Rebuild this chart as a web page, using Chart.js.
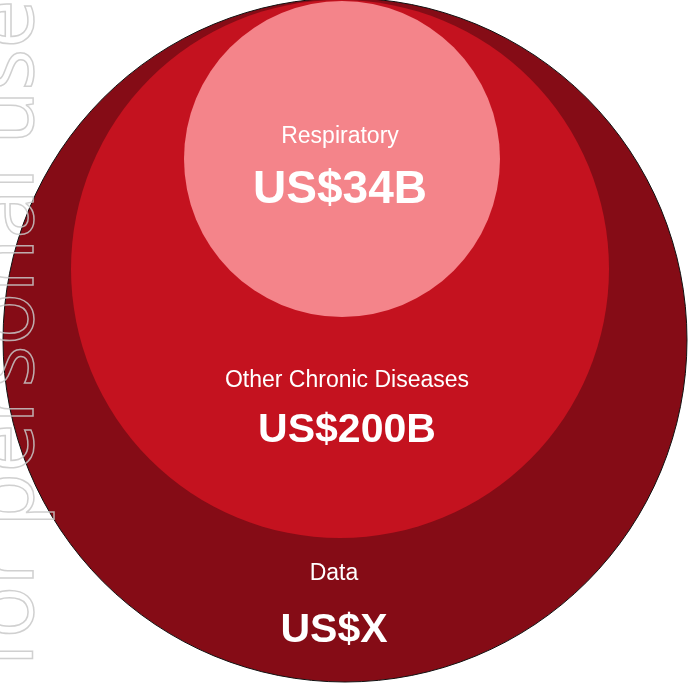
<!DOCTYPE html>
<html lang="en">
<head>
    <meta charset="UTF-8">
    <title>Nested spend circles</title>
    <style>
        * {
    box-sizing: border-box;
    margin: 0;
    padding: 0;
}

body {
    background-color: #ffffff;
    font-family: "Liberation Sans", Arial, sans-serif;
}

#circleChart {
    display: block;
}
    </style>
</head>
<body>
    <canvas id="circleChart" width="697" height="684"></canvas>

    <script src="https://cdn.jsdelivr.net/npm/chart.js"></script>
    <script>
        // Data (outer to inner)
        const categories = ['Data', 'Other Chronic Diseases', 'Respiratory'];
        const valueLabels = ['US$X', 'US$200B', 'US$34B'];
        const circleX = [345, 340, 342];
        const circleY = [340, 269, 159];
        const circleR = [342, 269, 158];
        const circleColors = ['#850c16', '#c4121f', '#f4848a'];

        // text placement relative to each circle centre (name baseline, value baseline)
        const nameOffsetY = [240, 118, -16];
        const valueOffsetY = [302, 173, 44];
        const textShiftX = [-11, 7, -2];
        const valueFontSize = [41, 41, 46];

        const labelPlugin = {
            id: 'circleLabels',
            afterDatasetsDraw(chart) {
                const ctx = chart.ctx;
                const xs = chart.scales.x;
                const ys = chart.scales.y;
                ctx.save();
                ctx.fillStyle = '#ffffff';
                ctx.textAlign = 'center';
                ctx.textBaseline = 'alphabetic';
                categories.forEach((name, i) => {
                    const px = xs.getPixelForValue(circleX[i] + textShiftX[i]);
                    ctx.font = '23px "Liberation Sans", Arial, sans-serif';
                    ctx.fillText(name, px, ys.getPixelForValue(circleY[i] + nameOffsetY[i]));
                    ctx.font = 'bold ' + valueFontSize[i] + 'px "Liberation Sans", Arial, sans-serif';
                    ctx.fillText(valueLabels[i], px, ys.getPixelForValue(circleY[i] + valueOffsetY[i]));
                });
                ctx.restore();
            },
            afterDraw(chart) {
                // faint outlined watermark down the left edge
                const ctx = chart.ctx;
                ctx.save();
                ctx.translate(33, 668);
                ctx.rotate(-Math.PI / 2);
                ctx.font = '88px "Open Sans", sans-serif';
                ctx.strokeStyle = 'rgba(200, 200, 200, 0.85)';
                ctx.lineWidth = 1.5;
                ctx.strokeText('for personal use', 0, 0);
                ctx.restore();
            }
        };

        function radiusPx(c) {
            const s = c.chart.scales.x;
            if (!s || c.dataIndex === undefined) return 0;
            return Math.abs(s.getPixelForValue(circleR[c.dataIndex]) - s.getPixelForValue(0));
        }

        const ctxCircles = document.getElementById('circleChart').getContext('2d');
        const circleChart = new Chart(ctxCircles, {
            type: 'scatter',
            data: {
                labels: categories,
                datasets: [{
                    data: categories.map((c, i) => ({ x: circleX[i], y: circleY[i] })),
                    pointBackgroundColor: circleColors,
                    pointBorderColor: ['#111111', circleColors[1], circleColors[2]],
                    pointBorderWidth: [1, 0, 0],
                    pointRadius: radiusPx,
                    pointHoverRadius: radiusPx,
                    showLine: false,
                    clip: false,
                }],
            },
            options: {
                responsive: false,
                animation: false,
                events: [],
                layout: { padding: 0 },
                plugins: {
                    legend: { display: false },
                    tooltip: { enabled: false },
                },
                scales: {
                    x: { type: 'linear', min: 0, max: 697, display: false },
                    y: { type: 'linear', min: 0, max: 684, reverse: true, display: false },
                },
            },
            plugins: [labelPlugin],
        });
    </script>
</body>
</html>
